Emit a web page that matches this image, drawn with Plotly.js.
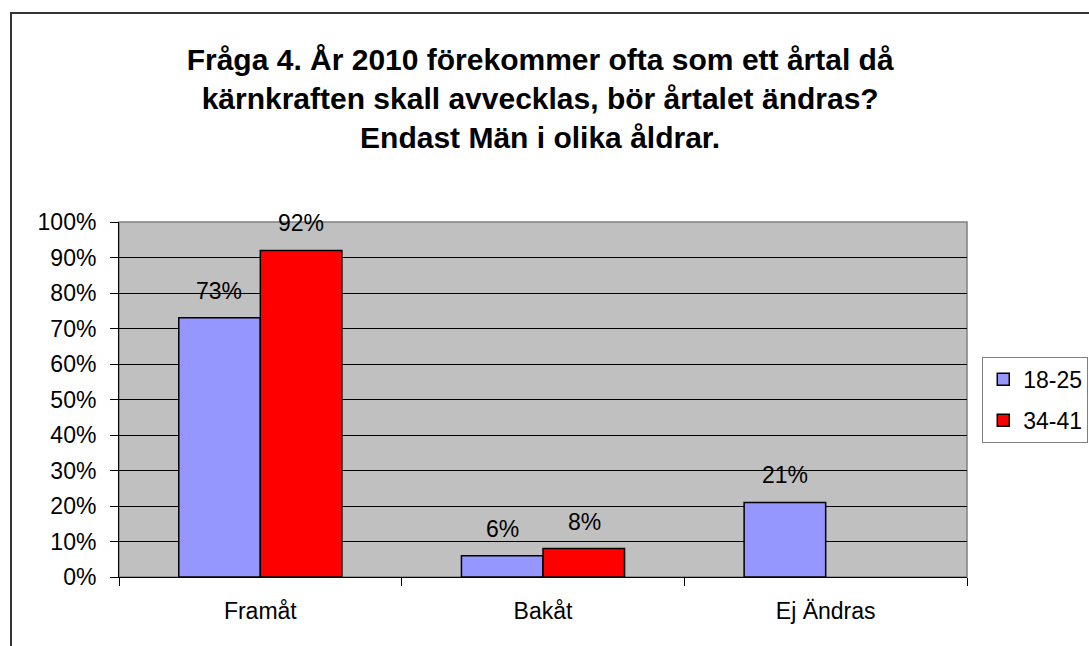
<!DOCTYPE html>
<html>
<head>
<meta charset="utf-8">
<script src="https://cdn.plot.ly/plotly-3.0.1.min.js"></script>
<style>
html,body{margin:0;padding:0;background:#fff;overflow:hidden;}
#frame{position:absolute;left:10px;top:12px;width:1200px;height:700px;border:2px solid #333;box-sizing:border-box;}
#chart{position:absolute;left:0;top:0;width:1089px;height:646px;}
</style>
</head>
<body>
<div id="frame"></div>
<div id="chart"></div>
<script>
const categories = ["Framåt", "Bakåt", "Ej Ändras"];
const seriesNames = ["18-25", "34-41"];
const values1825 = [73, 6, 21];
const values3441 = [92, 8, null];
const yTickVals = [0, 10, 20, 30, 40, 50, 60, 70, 80, 90, 100];
const yTickLabels = ["0%", "10%", "20%", "30%", "40%", "50%", "60%", "70%", "80%", "90%", "100%"];
const titleText = "Fråga 4. År 2010 förekommer ofta som ett årtal då<br>kärnkraften skall avvecklas, bör årtalet ändras?<br>Endast Män i olika åldrar.";

const FONT = "Liberation Sans, Arial, sans-serif";
const FS = 23;

const traces = [
  {
    type: "bar", name: seriesNames[0], x: categories, y: values1825,
    legendgroup: "a",
    marker: {
      color: "#8c8cff",
      line: {color: "#000", width: 1.5},
      pattern: {shape: ".", fgcolor: "#1010ff", bgcolor: "#ffffff", size: 2, solidity: 0.5, fillmode: "replace"}
    },
    hoverinfo: "x+y"
  },
  {
    type: "bar", name: seriesNames[1], x: categories, y: values3441,
    legendgroup: "b",
    marker: {color: "#ff0000", line: {color: "#000", width: 1.5}},
    hoverinfo: "x+y"
  }
];

const annotations = [];
const seriesVals = [values1825, values3441];
seriesVals.forEach((vals, s) => {
  vals.forEach((v, i) => {
    if (v === null) return;
    annotations.push({
      text: v + "%", x: categories[i], y: v, xref: "x", yref: "y",
      xshift: s === 0 ? -41 : 41, yshift: 27, yanchor: "middle",
      showarrow: false, font: {family: FONT, size: FS, color: "#000"}
    });
  });
});

const layout = {
  width: 1089, height: 646,
  margin: {l: 119, r: 122, t: 222, b: 69, autoexpand: false},
  paper_bgcolor: "rgba(0,0,0,0)",
  plot_bgcolor: "#c0c0c0",
  font: {family: FONT, size: FS, color: "#000"},
  title: {
    text: titleText,
    font: {family: FONT, size: 30, color: "#000", weight: "bold"},
    x: 0.496, xanchor: "center", xref: "container",
    y: 1 - 70 / 646, yref: "container", yanchor: "middle"
  },
  barmode: "group",
  bargap: 0.423,
  bargroupgap: 0,
  showlegend: true,
  legend: {
    x: 1.018, y: 0.62, xanchor: "left", yanchor: "top",
    bordercolor: "#808080", borderwidth: 1, bgcolor: "#fff",
    font: {family: FONT, size: FS, color: "#000"},
    traceorder: "grouped", tracegroupgap: 8
  },
  xaxis: {
    type: "category",
    showgrid: false, showline: true, linecolor: "#000", linewidth: 1,
    ticks: "outside", tickson: "boundaries", ticklen: 8, tickcolor: "#000",
    ticklabelstandoff: 13,
    tickfont: {family: FONT, size: FS, color: "#000"}
  },
  yaxis: {
    range: [0, 100], tickmode: "array", tickvals: yTickVals, ticktext: yTickLabels,
    showgrid: true, gridcolor: "#000", gridwidth: 1,
    showline: true, linecolor: "#000", linewidth: 1,
    ticks: "outside", ticklen: 8, tickcolor: "#000",
    ticklabelstandoff: 9,
    zeroline: false,
    tickfont: {family: FONT, size: FS, color: "#000"}
  },
  shapes: [
    {type: "rect", xref: "paper", yref: "paper", x0: 0, x1: 1, y0: 0, y1: 1,
     line: {color: "#808080", width: 1.5}, layer: "below"}
  ],
  annotations: annotations
};

Plotly.newPlot("chart", traces, layout, {displayModeBar: false, staticPlot: true});
</script>
</body>
</html>
